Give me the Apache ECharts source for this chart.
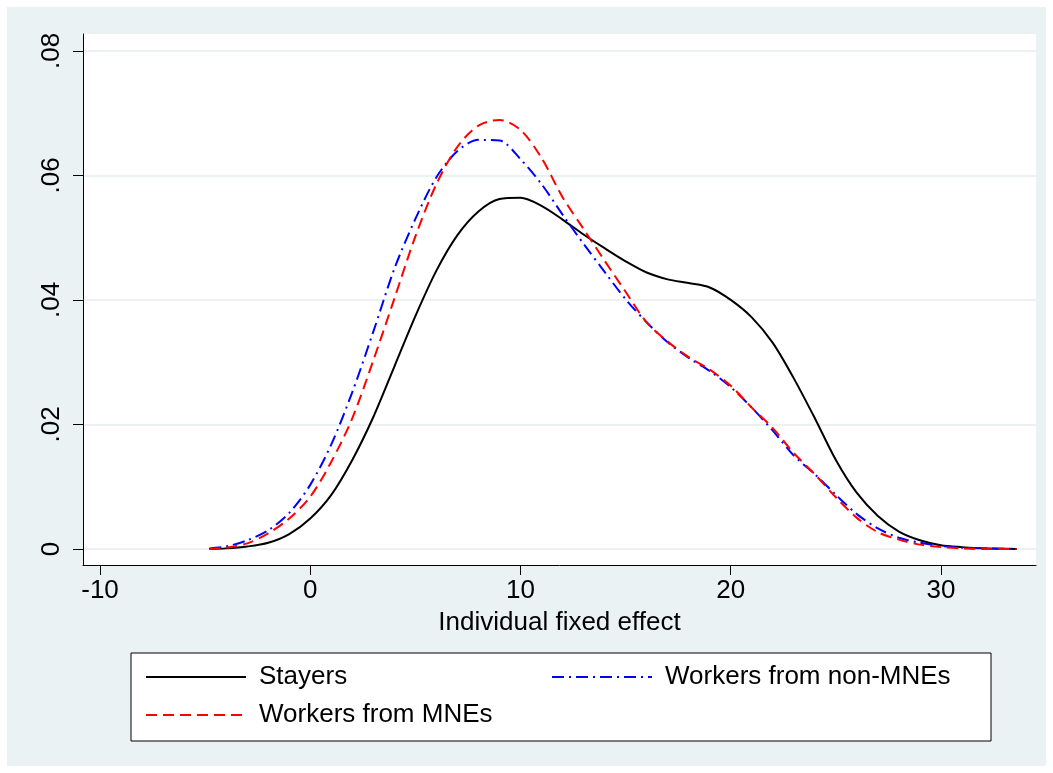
<!DOCTYPE html>
<html>
<head>
<meta charset="utf-8">
<script src="https://cdn.jsdelivr.net/npm/echarts@6/dist/echarts.min.js"></script>
<style>
  html, body { margin: 0; padding: 0; background: #fff; }
  #main { width: 1053px; height: 773px; }
</style>
</head>
<body>
<div id="main"></div>
<script>
// x grid of the kernel density (individual fixed effect)
const xs = [-4.8, -4, -3, -2, -1, 0, 1, 2, 3, 4, 5, 6, 7, 8, 9, 10, 11, 12, 13, 14, 15, 16,
            17, 18, 19, 20, 21, 22, 23, 24, 25, 26, 27, 28, 29, 30, 31, 32, 33.6];

// densities
const stayers = [0, 0.0001, 0.0004, 0.0010, 0.0024, 0.0049, 0.0087, 0.0143, 0.0212, 0.0293,
                 0.0374, 0.0447, 0.0504, 0.0542, 0.0562, 0.0564, 0.0551, 0.0529, 0.0505, 0.0483,
                 0.0462, 0.0444, 0.0433, 0.0427, 0.0420, 0.0400, 0.0372, 0.0331, 0.0274, 0.0210,
                 0.0143, 0.0090, 0.0053, 0.0028, 0.0014, 0.0006, 0.0003, 0.0001, 0];
const nonMNE = [0.0001, 0.0004, 0.0014, 0.0030, 0.0058, 0.0103, 0.0168, 0.0252, 0.0349, 0.0450,
                0.0530, 0.0597, 0.0639, 0.0657, 0.0656, 0.0626, 0.0586, 0.0537, 0.0490, 0.0445,
                0.0401, 0.0364, 0.0332, 0.0307, 0.0286, 0.0260, 0.0227, 0.0190, 0.0150, 0.0120,
                0.0087, 0.0056, 0.0033, 0.0018, 0.0010, 0.0005, 0.0002, 0.0001, 0];
const MNE = [0, 0.0002, 0.0009, 0.0025, 0.0049, 0.0084, 0.0140, 0.0210, 0.0303, 0.0402,
             0.0502, 0.0586, 0.0646, 0.0680, 0.0689, 0.0673, 0.0628, 0.0565, 0.0514, 0.0463,
             0.0413, 0.0364, 0.0333, 0.0308, 0.0288, 0.0262, 0.0227, 0.0194, 0.0154, 0.0120,
             0.0083, 0.0050, 0.0027, 0.0015, 0.0007, 0.0003, 0.0001, 0, 0];

const xTicks = [-10, 0, 10, 20, 30];
const yTicks = [0, 0.02, 0.04, 0.06, 0.08];

const names = ['Stayers', 'Workers from non-MNEs', 'Workers from MNEs'];

const pairs = ys => xs.map((x, i) => [x, ys[i]]);
const FONT = '"Liberation Sans", Arial, sans-serif';

const legendBase = {
  orient: 'vertical', top: 663,
  itemWidth: 100, itemHeight: 14, itemGap: 10, padding: 0,
  itemStyle: { opacity: 0 },
  textStyle: { fontSize: 26, color: '#000', lineHeight: 28, fontFamily: FONT, padding: [0, 0, 0, 8] }
};

const chart = echarts.init(document.getElementById('main'));

chart.setOption({
  backgroundColor: '#fff',
  animation: false,
  textStyle: { fontFamily: FONT },
  graphic: [
    // outer graph region (Stata style)
    { type: 'rect', z: -10, silent: true,
      shape: { x: 7, y: 7, width: 1039, height: 759 },
      style: { fill: '#eaf2f3' } },
    // legend frame
    { type: 'rect', z: 0, silent: true,
      shape: { x: 131, y: 653, width: 860, height: 88 },
      style: { fill: '#fff', stroke: '#000', lineWidth: 1 } }
  ],
  grid: {
    left: 83, top: 34, right: 17, bottom: 208,
    show: true, backgroundColor: '#fff', borderWidth: 0
  },
  xAxis: {
    type: 'value',
    min: -10.81, max: 34.52,
    name: 'Individual fixed effect',
    nameLocation: 'middle',
    nameGap: 45,
    nameTextStyle: { fontSize: 26, color: '#000', fontFamily: FONT },
    axisLine: { show: true, onZero: false, lineStyle: { color: '#000', width: 1 } },
    axisTick: { show: true, length: 10, customValues: xTicks, lineStyle: { color: '#000' } },
    axisLabel: { customValues: xTicks, fontSize: 26, color: '#000', margin: 13, fontFamily: FONT },
    splitLine: { show: false }
  },
  yAxis: {
    type: 'value',
    min: -0.00257, max: 0.0827,
    axisLine: { show: true, onZero: false, lineStyle: { color: '#000', width: 1 } },
    axisTick: { show: true, length: 10, customValues: yTicks, lineStyle: { color: '#000' } },
    axisLabel: {
      customValues: yTicks, rotate: 90, fontSize: 26, color: '#000', margin: 18, fontFamily: FONT,
      formatter: v => (v === 0 ? '0' : v.toFixed(2).replace(/^0/, ''))
    },
    splitLine: { show: true, lineStyle: { color: '#eaf2f3', width: 2 } }
  },
  legend: [
    Object.assign({ data: [names[0], names[2]], left: 145 }, legendBase),
    Object.assign({ data: [names[1]], left: 551 }, legendBase)
  ],
  series: [
    { name: names[0], type: 'line', data: pairs(stayers), symbol: 'none', smooth: 0.3,
      color: '#000', lineStyle: { color: '#000', width: 2, type: 'solid' } },
    { name: names[1], type: 'line', data: pairs(nonMNE), symbol: 'none', smooth: 0.3,
      color: '#0000ff', lineStyle: { color: '#0000ff', width: 2, type: [12, 5, 2, 5] } },
    { name: names[2], type: 'line', data: pairs(MNE), symbol: 'none', smooth: 0.3,
      color: '#ff0000', lineStyle: { color: '#ff0000', width: 2, type: [11, 6] } }
  ]
});

window.addEventListener('resize', () => chart.resize());
</script>
</body>
</html>
